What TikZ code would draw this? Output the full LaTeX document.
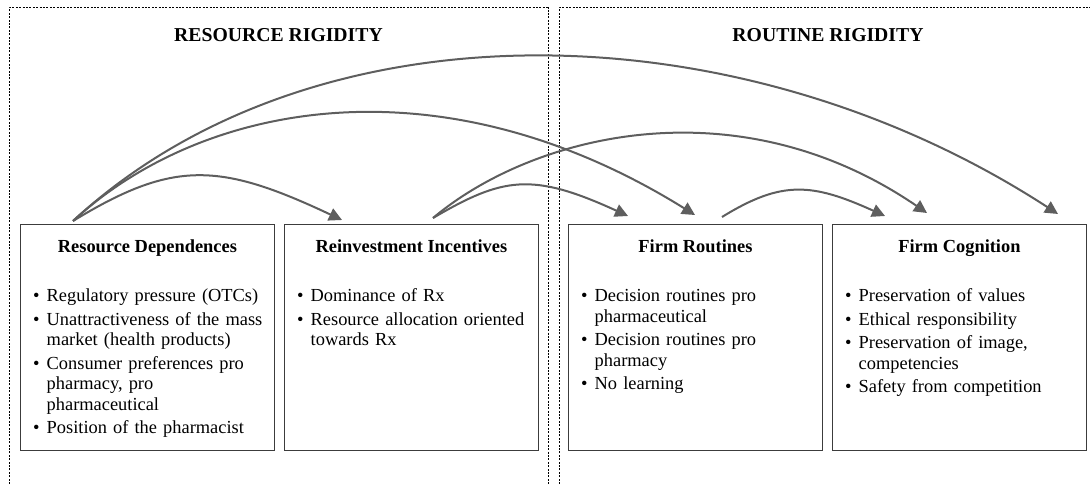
\documentclass[tikz,border=0pt]{standalone}
\usepackage{fontspec}
\setmainfont{Liberation Serif}
\usetikzlibrary{arrows.meta,calc}
\definecolor{arrowgray}{HTML}{5E5E5E}
\definecolor{boxgray}{HTML}{3C3C3C}
% one bulleted entry with a hanging indent
\newcommand{\bitem}[1]{\par\noindent\hangindent=13.5pt\hangafter=1\makebox[13.5pt][l]{\textbullet}\strut#1\par\vspace{2.5pt}}

\begin{document}
\begin{tikzpicture}[x=1pt,y=-1pt,
  frame/.style={draw=black, line width=1pt, dash pattern=on 2pt off 1.4pt},
  card/.style={draw=boxgray, line width=0.9pt, minimum width=254pt, minimum height=226pt, inner sep=0pt, anchor=north west},
  cardtitle/.style={font=\fontsize{18.4}{21}\selectfont\bfseries, anchor=base, inner sep=0pt},
  cardlist/.style={font=\fontsize{18.4}{20.7}\selectfont, text width=240pt, align=left, anchor=north west, inner sep=0pt},
  heading/.style={font=\fontsize{19.7}{22}\selectfont\bfseries, anchor=base, inner sep=0pt},
  link/.style={draw=arrowgray, line width=2pt, -{Triangle[length=13pt,width=13pt]}}
]
\useasboundingbox (0,0) rectangle (1090,484);

% dotted frames of the two areas (open towards the bottom)
\draw[frame] (9,484) -- (9,8) -- (548,8) -- (548,484);
\draw[frame] (559,484) -- (559,8) -- (1090,8);

\node[heading] (hres) at (278.5,42) {RESOURCE RIGIDITY};
\node[heading] (hrou) at (828,42) {ROUTINE RIGIDITY};

% the four boxes
\node[card] (rd) at (20,224) {};
\node[card] (ri) at (284,224) {};
\node[card] (fr) at (568,224) {};
\node[card] (fc) at (832,224) {};

\node[cardtitle] (rdt) at ($(rd.north)+(0,28)$) {Resource Dependences};
\node[cardtitle] (rit) at ($(ri.north)+(0,28)$) {Reinvestment Incentives};
\node[cardtitle] (frt) at ($(fr.north)+(0,28)$) {Firm Routines};
\node[cardtitle] (fct) at ($(fc.north)+(0,28)$) {Firm Cognition};

\node[cardlist] (rdl) at ($(rd.north west)+(13,57)$) {%
  \bitem{Regulatory pressure (OTCs)}
  \bitem{Unattractiveness of the mass\newline market (health products)}
  \bitem{Consumer preferences pro\newline pharmacy, pro\newline pharmaceutical}
  \bitem{Position of the pharmacist}};
\node[cardlist] (ril) at ($(ri.north west)+(13,57)$) {%
  \bitem{Dominance of Rx}
  \bitem{Resource allocation oriented\newline towards Rx}};
\node[cardlist] (frl) at ($(fr.north west)+(13,57)$) {%
  \bitem{Decision routines pro\newline pharmaceutical}
  \bitem{Decision routines pro\newline pharmacy}
  \bitem{No learning}};
\node[cardlist] (fcl) at ($(fc.north west)+(13,57)$) {%
  \bitem{Preservation of values}
  \bitem{Ethical responsibility}
  \bitem{Preservation of image,\newline competencies}
  \bitem{Safety from competition}};

% start and end points of the connectors on the box tops
\coordinate (s1) at ($(rd.north west)+(53,-3)$);
\coordinate (s2) at ($(ri.north west)+(149,-6)$);
\coordinate (s3) at ($(fr.north west)+(154,-7)$);
\coordinate (e1) at ($(ri.north west)+(58,-4)$);
\coordinate (e2) at ($(fr.north west)+(127,-9)$);
\coordinate (e3) at ($(fc.north west)+(226,-10)$);
\coordinate (e4) at ($(fr.north west)+(60,-8)$);
\coordinate (e5) at ($(fc.north west)+(95,-11)$);
\coordinate (e6) at ($(fc.north west)+(53,-8)$);

% curved connectors
\draw[link] (s1) .. controls +(100,-61) and +(-123,-58) .. (e1);
\draw[link] (s1) .. controls +(130,-120) and +(-254,-158) .. (e2);
\draw[link] (s1) .. controls +(240,-222) and +(-320,-208) .. (e3);
\draw[link] (s2) .. controls +(70,-41) and +(-96,-44) .. (e4);
\draw[link] (s2) .. controls +(100,-84) and +(-190,-130) .. (e5);
\draw[link] (s3) .. controls +(60,-37) and +(-73,-33) .. (e6);
\end{tikzpicture}
\end{document}
